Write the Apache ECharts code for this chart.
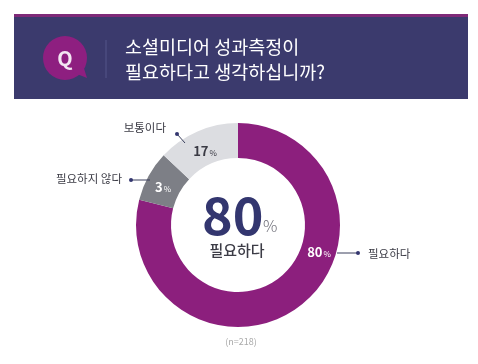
<!DOCTYPE html>
<html><head><meta charset="utf-8">
<style>html,body{margin:0;padding:0;background:#fff}#c{width:478px;height:364px}</style>
<script src="https://cdn.jsdelivr.net/npm/echarts@6/dist/echarts.min.js"></script>
</head><body><div id="c"></div>
<script>
const categories = ['필요하다', '필요하지 않다', '보통이다'];
const percentLabels = [80, 3, 17];
// Arc shares as they are actually drawn in the picture (it is not to scale with its labels)
const drawnArcShares = [79, 8, 13];
const sliceColors = ['#8c1f7d', '#7d7f86', '#dcdde1'];
const ringLabelColors = ['#fff', '#fff', '#3a3a44'];
const ringLabelPos = [[319, 252], [163, 187], [205, 151]];
const titleLines = ['소셜미디어 성과측정이', '필요하다고 생각하십니까?'];
const centerValue = '80', centerName = '필요하다', sampleNote = '(n=218)';
const FONT = '"Noto Sans CJK KR","Noto Sans",sans-serif';
const dark = '#3c3c46', navy = '#33366f';

const chart = echarts.init(document.getElementById('c'), null, {renderer: 'canvas'});
function leader(pts) {
  return [{type: 'polyline', shape: {points: pts}, style: {stroke: '#3a3f5c', lineWidth: 1, fill: null}, z: 5},
          {type: 'circle', shape: {cx: pts[0][0], cy: pts[0][1], r: 2}, style: {fill: '#33366f'}, z: 5}];
}
function txt(x, y, text, size, fill, weight, align, extra) {
  return {type: 'text', x, y, z: 6, style: Object.assign({text, font: `${weight || 400} ${size}px ${FONT}`, fill, align: align || 'left', verticalAlign: 'middle'}, extra || {})};
}
chart.setOption({
  animation: false,
  backgroundColor: '#fff',
  series: [{
    type: 'pie',
    center: [238, 225],
    radius: [67, 102],
    startAngle: 90,
    clockwise: true,
    silent: true,
    data: categories.map((name, i) => ({
      name, value: drawnArcShares[i],
      itemStyle: {color: sliceColors[i]},
      label: {
        show: true, position: 'inside',
        formatter: `{n|${percentLabels[i]}}{p|%}`,
        rich: {
          n: {fontFamily: FONT, fontSize: 13, fontWeight: 700, color: ringLabelColors[i]},
          p: {fontFamily: FONT, fontSize: 8, color: ringLabelColors[i], padding: [3, 0, 0, 1]}
        }
      }
    })),
    labelLayout: p => ({x: ringLabelPos[p.dataIndex][0], y: ringLabelPos[p.dataIndex][1], align: 'center', verticalAlign: 'middle'}),
    labelLine: {show: false}
  }],
  graphic: [
    {type: 'rect', shape: {x: 14, y: 14, width: 454, height: 85}, style: {fill: '#3b3a6d'}, z: 1},
    {type: 'rect', shape: {x: 14, y: 14, width: 454, height: 3}, style: {fill: '#7f2a78'}, z: 2},
    {type: 'circle', shape: {cx: 65, cy: 58, r: 22}, style: {fill: '#8e1f80'}, z: 2},
    {type: 'polygon', shape: {points: [[72, 72], [87, 78], [82, 62]]}, style: {fill: '#8e1f80'}, z: 2},
    {type: 'rect', shape: {x: 105.5, y: 40, width: 1, height: 38}, style: {fill: '#55558a'}, z: 2},
    txt(65, 58, 'Q', 20, '#f3e6f2', 700, 'center'),
    txt(125, 47, titleLines[0], 18.5, '#fff', 400),
    txt(125, 72, titleLines[1], 18.5, '#fff', 400),
    txt(202, 215, centerValue, 52, navy, 700),
    txt(263, 226, '%', 16, '#6a6a74', 300),
    txt(237, 250, centerName, 15, dark, 500, 'center'),
    ...leader([[177, 134], [185, 143]]),
    ...leader([[131, 180], [150, 180]]),
    ...leader([[358, 253], [337, 253]]),
    txt(166, 128, categories[2], 11.5, dark, 400, 'right'),
    txt(122, 179, categories[1], 11.5, dark, 400, 'right'),
    txt(368, 254, categories[0], 11.5, dark, 400),
    txt(241, 342, sampleNote, 9, '#aaa', 400, 'center')
  ]
});
</script></body></html>
